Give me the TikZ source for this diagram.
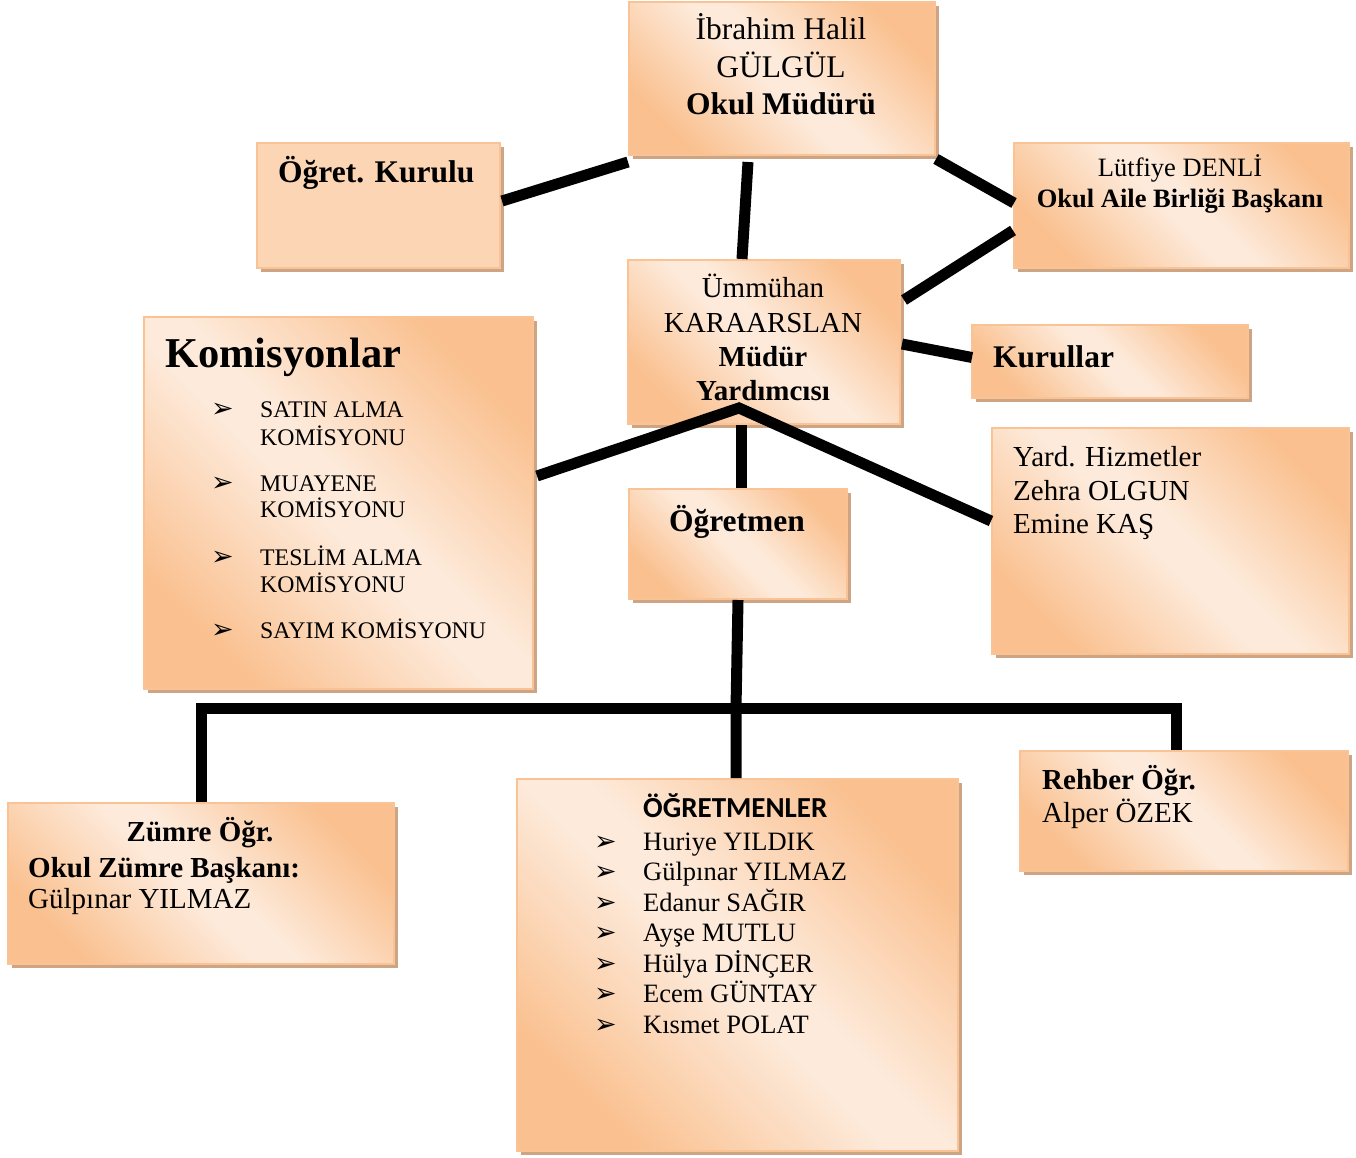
\documentclass[tikz,border=0pt]{standalone}
\usepackage{fontspec}
\setmainfont{Liberation Serif}
\newfontfamily\calib{Carlito}
\newfontfamily\dvs{DejaVu Sans}
\usetikzlibrary{calc,shadows}
\definecolor{orng}{RGB}{250,192,143}
\definecolor{lite}{RGB}{253,234,218}
\definecolor{bordc}{RGB}{250,195,150}
\definecolor{shadc}{RGB}{205,165,133}
\definecolor{flatc}{RGB}{251,213,180}
\pgfdeclareverticalshading{wordgrad}{100bp}{color(0bp)=(orng); color(25bp)=(orng); color(47bp)=(lite); color(53bp)=(lite); color(75bp)=(orng); color(100bp)=(orng)}
\tikzset{
  orgbox/.style={draw=bordc, line width=2pt, shading=wordgrad, shading angle=-45, inner sep=0pt, anchor=north west,
    drop shadow={shadow xshift=4pt, shadow yshift=-4pt, fill=shadc, opacity=1}},
  flatbox/.style={draw=bordc, line width=2pt, fill=flatc, inner sep=0pt, anchor=north west,
    drop shadow={shadow xshift=4pt, shadow yshift=-4pt, fill=shadc, opacity=1}},
  conn/.style={line width=11pt, black},
  txt/.style={inner sep=0pt, anchor=base},
  txtw/.style={inner sep=0pt, anchor=base west},
  ftop/.style={font=\fontsize{31.5}{36}\selectfont},
  ftopb/.style={font=\fontsize{31.5}{36}\selectfont\bfseries},
  fab/.style={font=\fontsize{31.5}{36}\selectfont\bfseries},
  fb/.style={font=\fontsize{29}{34}\selectfont},
  fbb/.style={font=\fontsize{29}{34}\selectfont\bfseries},
  fc/.style={font=\fontsize{26.5}{31}\selectfont},
  fcb/.style={font=\fontsize{26.5}{31}\selectfont\bfseries},
  fk/.style={font=\fontsize{23.8}{27}\selectfont},
  bul/.style={inner sep=0pt, anchor=base west, font=\dvs\fontsize{27}{30}\selectfont},
}
\begin{document}
\begin{tikzpicture}[x=1pt,y=-1pt]
\useasboundingbox (0,0) rectangle (1356,1158);
% boxes
\node[orgbox, minimum width=306pt, minimum height=153pt] (mudur) at (628,1) {};
\node[flatbox, minimum width=243pt, minimum height=125pt] (kurulu) at (256,142) {};
\node[orgbox, minimum width=335pt, minimum height=125pt] (lutfiye) at (1013,142) {};
\node[orgbox, minimum width=272pt, minimum height=164pt] (ummuhan) at (627,259) {};
\node[orgbox, minimum width=276pt, minimum height=73pt] (kurullar) at (971,324) {};
\node[orgbox, minimum width=357pt, minimum height=226pt] (yard) at (991,427) {};
\node[orgbox, minimum width=389pt, minimum height=372pt] (komis) at (143,316) {};
\node[orgbox, minimum width=218pt, minimum height=110pt] (ogretmen) at (628,488) {};
\node[orgbox, minimum width=386pt, minimum height=161pt] (zumre) at (7,802) {};
\node[orgbox, minimum width=441pt, minimum height=372pt] (ogrler) at (516,778) {};
\node[orgbox, minimum width=328pt, minimum height=120pt] (rehber) at (1019,750) {};
% texts
\node[txt, ftop] (t1a) at (781,40) {İbrahim Halil};
\node[txt, ftop] (t1b) at (781,78) {GÜLGÜL};
\node[txt, ftopb] (t1c) at (781,115) {Okul Müdürü};
\node[txtw, fab] (t2) at (278,183) {Öğret. Kurulu};
\node[txt, fc] (t3a) at (1180,177) {Lütfiye DENLİ};
\node[txt, fcb] (t3b) at (1180,208) {Okul Aile Birliği Başkanı};
\node[txt, fb] (t4a) at (763,297) {Ümmühan};
\node[txt, fb] (t4b) at (763,332) {KARAARSLAN};
\node[txt, fbb] (t4c) at (763,366) {Müdür};
\node[txt, fbb] (t4d) at (763,400) {Yardımcısı};
\node[txtw, fab] (t5) at (993,367) {Kurullar};
\node[txtw, fb] (t6a) at (1013,466) {Yard. Hizmetler};
\node[txtw, fb] (t6b) at (1013,500) {Zehra OLGUN};
\node[txtw, fb] (t6c) at (1013,533) {Emine KAŞ};
\node[txtw, font=\fontsize{42.5}{48}\selectfont\bfseries] (t7) at (165,367) {Komisyonlar};
\node[bul] (b7a) at (211,417) {➢};
\node[txtw, fk] (t7a) at (260,417) {SATIN ALMA};
\node[txtw, fk] (t7b) at (260,445) {KOMİSYONU};
\node[bul] (b7c) at (211,491) {➢};
\node[txtw, fk] (t7c) at (260,491) {MUAYENE};
\node[txtw, fk] (t7d) at (260,517) {KOMİSYONU};
\node[bul] (b7e) at (211,565) {➢};
\node[txtw, fk] (t7e) at (260,565) {TESLİM ALMA};
\node[txtw, fk] (t7f) at (260,592) {KOMİSYONU};
\node[bul] (b7g) at (211,638) {➢};
\node[txtw, fk] (t7g) at (260,638) {SAYIM KOMİSYONU};
\node[txt, fab] (t8) at (737,531) {Öğretmen};
\node[txt, fbb] (t9a) at (200,841) {Zümre Öğr.};
\node[txtw, fbb] (t9b) at (28,877) {Okul Zümre Başkanı:};
\node[txtw, fb] (t9c) at (28,908) {Gülpınar YILMAZ};
\node[txtw, font=\calib\fontsize{29}{33}\selectfont\bfseries] (t10) at (643,817) {ÖĞRETMENLER};
\foreach \yy/\nm/\tx in {850/a/Huriye YILDIK, 880/b/Gülpınar YILMAZ, 911/c/Edanur SAĞIR, 941/d/Ayşe MUTLU, 972/e/Hülya DİNÇER, 1002/f/Ecem GÜNTAY, 1033/g/Kısmet POLAT}{
  \node[bul] (b10\nm) at (594,\yy) {➢};
  \node[txtw, fc] (t10\nm) at (643,\yy) {\tx};
}
\node[txtw, fbb] (t11a) at (1042,789) {Rehber Öğr.};
\node[txtw, fb] (t11b) at (1042,822) {Alper ÖZEK};
% connectors
\coordinate (apex) at ($(ummuhan.south)+(-25,-17)$);
\coordinate (jn) at ($(ogrler.north)+(-1.5,-70)$);
\draw[conn] ($(kurulu.north east)+(1,59)$) -- ($(mudur.south west)+(0,6)$);
\draw[conn] ($(mudur.south)+(-34,6)$) -- ($(ummuhan.north)+(-22,0)$);
\draw[conn] ($(mudur.south east)+(0,3)$) -- ($(lutfiye.west)+(1,-2.5)$);
\draw[conn] ($(ummuhan.north east)+(3,41)$) -- ($(lutfiye.west)+(0,25)$);
\draw[conn] ($(ummuhan.east)+(1,2)$) -- ($(kurullar.west)+(1,-4)$);
\draw[conn, line join=miter] ($(komis.east)+(3,-27)$) -- (apex) -- ($(yard.west)+(0,-20)$);
\draw[conn] ($(ummuhan.south)+(-23,0)$) -- ($(ogretmen.north)+(3,0)$);
\draw[conn] (ogretmen.south) -- (jn) -- (ogrler.north -| jn);
\draw[conn, line join=miter] (zumre.north) |- (jn) -| ($(rehber.north)+(-8,0)$);
\end{tikzpicture}
\end{document}
